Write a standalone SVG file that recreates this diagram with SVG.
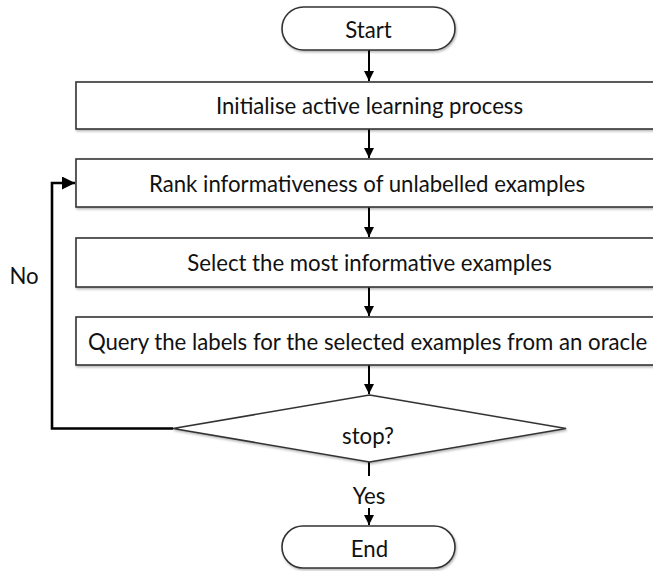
<svg xmlns="http://www.w3.org/2000/svg" width="653" height="571" viewBox="0 0 653 571">
  <defs>
    <marker id="arrow" viewBox="0 0 10 10" refX="10" refY="5" markerWidth="5" markerHeight="5" orient="auto" markerUnits="strokeWidth">
      <path d="M0,0 L10,5 L0,10 z" fill="#000"/>
    </marker>
    <filter id="shadow" x="-5%" y="-20%" width="110%" height="150%">
      <feDropShadow dx="1" dy="1.5" stdDeviation="1" flood-color="#000" flood-opacity="0.3"/>
    </filter>
    <style>
      .shape { fill: #fff; stroke: #333; stroke-width: 1.6; filter: url(#shadow); }
      .label { font-family: "Lato", "Open Sans", sans-serif; font-size: 22.2px; fill: #111; text-anchor: middle; }
      .edge { fill: none; stroke: #000; stroke-width: 2; }
      .loop { fill: none; stroke: #000; stroke-width: 2.6; }
    </style>
  </defs>

  <!-- connectors -->
  <g id="connectors">
    <line class="edge" x1="369" y1="50" x2="369" y2="81" marker-end="url(#arrow)"/>
    <line class="edge" x1="369" y1="129" x2="369" y2="158" marker-end="url(#arrow)"/>
    <line class="edge" x1="369" y1="207" x2="369" y2="237" marker-end="url(#arrow)"/>
    <line class="edge" x1="369" y1="287" x2="369" y2="316" marker-end="url(#arrow)"/>
    <line class="edge" x1="369" y1="365" x2="369" y2="394" marker-end="url(#arrow)"/>
    <line class="edge" x1="369" y1="462" x2="369" y2="476"/>
    <line class="edge" x1="369" y1="508" x2="369" y2="525" marker-end="url(#arrow)"/>
    <polyline class="loop" points="173,428.5 52,428.5 52,183 75,183" marker-end="url(#arrow)"/>
    <text class="label" x="24" y="284">No</text>
    <text class="label" x="369" y="504">Yes</text>
  </g>

  <!-- nodes -->
  <g id="start">
    <rect class="shape" x="282" y="7" width="173" height="43" rx="21.5"/>
    <text class="label" x="368.5" y="38">Start</text>
  </g>
  <g id="init">
    <rect class="shape" x="76" y="82" width="600" height="47"/>
    <text class="label" x="369.5" y="114">Initialise active learning process</text>
  </g>
  <g id="rank">
    <rect class="shape" x="76" y="159" width="600" height="48"/>
    <text class="label" x="367" y="192">Rank informativeness of unlabelled examples</text>
  </g>
  <g id="select">
    <rect class="shape" x="76" y="238" width="600" height="49"/>
    <text class="label" x="369.5" y="271">Select the most informative examples</text>
  </g>
  <g id="query">
    <rect class="shape" x="76" y="317" width="600" height="48"/>
    <text class="label" x="367.5" y="350">Query the labels for the selected examples from an oracle</text>
  </g>
  <g id="stop">
    <polygon class="shape" points="369.5,395 566,428.5 369.5,462 173,428.5"/>
    <text class="label" x="368" y="444">stop?</text>
  </g>
  <g id="end">
    <rect class="shape" x="282" y="526" width="173" height="42" rx="21"/>
    <text class="label" x="369.5" y="557">End</text>
  </g>
</svg>
